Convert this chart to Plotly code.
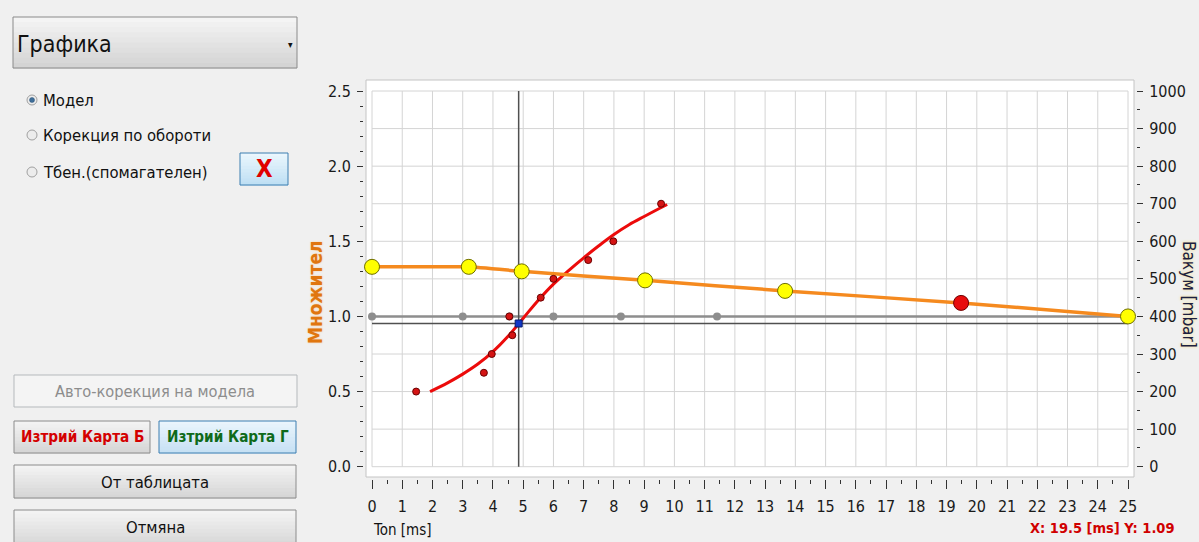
import plotly.graph_objects as go

# ---------------- data ----------------
# Injection-time multiplier model (orange curve, yellow nodes)
model_ton = [0.0, 3.2, 4.95, 9.03, 13.66, 19.48, 25.0]
model_mult = [1.33, 1.33, 1.30, 1.24, 1.17, 1.09, 1.00]
selected_node = 5  # currently selected node (drawn red)

# Reference level 1.0 with its nodes
base_ton = [0.0, 3.0, 4.55, 6.0, 8.23, 11.41]
base_mult = [1.0, 1.0, 1.0, 1.0, 1.0, 1.0]
base_line_ton = [0.0, 25.0]
base_line_mult = [1.0, 1.0]

# Measured samples
meas_ton = [1.46, 3.70, 3.96, 4.54, 4.64, 5.58, 6.00, 7.15, 7.98, 9.56]
meas_mult = [0.500, 0.625, 0.750, 1.000, 0.875, 1.125, 1.250, 1.375, 1.500, 1.750]

# Fitted curve through the samples
fit_ton = [1.92, 2.5, 3.0, 3.5, 4.0, 4.5, 5.0, 5.5, 6.0, 6.5, 7.0, 7.5, 8.0, 8.5, 9.0, 9.5, 9.76]
fit_mult = [0.500, 0.558, 0.616, 0.683, 0.766, 0.868, 0.988, 1.108, 1.215, 1.305, 1.390,
            1.470, 1.545, 1.610, 1.665, 1.718, 1.745]

# Cursor position
cursor_ton = 4.85
cursor_mult = 0.953

x_ticks = list(range(0, 26))
y_ticks = [0.0, 0.5, 1.0, 1.5, 2.0, 2.5]
y_grid = [0.0, 0.25, 0.5, 0.75, 1.0, 1.25, 1.5, 1.75, 2.0, 2.25, 2.5]
vac_ticks = list(range(0, 1001, 100))

readout = "X: 19.5 [ms] Y: 1.09"

# ---------------- geometry ----------------
W, H = 1199, 542
L, R, T, B = 364, 1136, 80, 479          # plot area in pixels
X0_PX, X_PER = 372.0, 30.24               # pixel of Ton=0, pixels per ms
Y0_PX, Y_PER = 466.7, 150.27              # pixel of mult=0, pixels per unit

x_range = [(L - X0_PX) / X_PER, (R - X0_PX) / X_PER]
y_range = [(Y0_PX - B) / Y_PER, (Y0_PX - T) / Y_PER]
vac_range = [v * 400 for v in y_range]


def fx(p):
    return (p - L) / (R - L)


def fy(p):
    return (B - p) / (B - T)


FONT = "Liberation Sans Narrow, DejaVu Sans Condensed, Arial Narrow, Arial, sans-serif"
BG = "#f0f0f0"
TICK_FONT = 16

shapes = []
annotations = []


def rect(x0, y0, x1, y1, fill=None, line=None, lw=1, layer="above"):
    shapes.append(dict(
        type="rect", xref="paper", yref="paper",
        x0=fx(x0), x1=fx(x1), y0=fy(y1), y1=fy(y0),
        fillcolor=fill if fill else "rgba(0,0,0,0)",
        line=dict(color=line if line else "rgba(0,0,0,0)", width=lw if line else 0),
        layer=layer))


def hexmix(c1, c2, t):
    a = [int(c1[i:i + 2], 16) for i in (1, 3, 5)]
    b = [int(c2[i:i + 2], 16) for i in (1, 3, 5)]
    return "#" + "".join(f"{round(a[k] + (b[k] - a[k]) * t):02x}" for k in range(3))


def button(x0, y0, x1, y1, top="#f3f3f3", bottom="#d6d6d6", border="#8c8c8c", n=10):
    h = (y1 - y0) / n
    for i in range(n):
        rect(x0, y0 + i * h, x1, y0 + (i + 1) * h + 0.5, fill=hexmix(top, bottom, i / (n - 1)))
    rect(x0, y0, x1, y1, line=border, lw=1)


def text(x, y, s, size=17, color="#111111", anchor="left", bold=False, angle=0, shadow=None):
    f = dict(family=FONT, size=size, color=color)
    if bold:
        f["weight"] = "bold"
    if shadow:
        f["shadow"] = shadow
    annotations.append(dict(
        xref="paper", yref="paper", x=fx(x), y=fy(y), text=s, showarrow=False,
        xanchor=anchor, yanchor="middle", font=f, textangle=angle))


# white chart panel
rect(366, 80, 1134, 477, fill="#ffffff", line="#c4c4c4", lw=1, layer="below")

# grid
for xv in x_ticks:
    shapes.append(dict(type="line", xref="x", yref="y", x0=xv, x1=xv, y0=y_grid[0], y1=y_grid[-1],
                       line=dict(color="#d4d4d4", width=1), layer="below"))
for yv in y_grid:
    shapes.append(dict(type="line", xref="x", yref="y", x0=x_ticks[0], x1=x_ticks[-1], y0=yv, y1=yv,
                       line=dict(color="#d4d4d4", width=1), layer="below"))

# ---------------- left control panel ----------------
button(13, 17, 297, 68, top="#f4f4f4", bottom="#d4d4d4", border="#8a8a8a")
text(15, 44, "Графика", size=23)
text(290, 44, "▾", size=10, anchor="center")

radio_rows = [(100, "Модел", True), (135, "Корекция по обороти", False), (172, "Тбен.(спомагателен)", False)]
for yy, label, on in radio_rows:
    shapes.append(dict(type="circle", xref="paper", yref="paper",
                       x0=fx(27), x1=fx(37), y0=fy(yy + 5), y1=fy(yy - 5),
                       fillcolor="#ececec", line=dict(color="#a0a0a0", width=1)))
    if on:
        shapes.append(dict(type="circle", xref="paper", yref="paper",
                           x0=fx(29.5), x1=fx(34.5), y0=fy(yy + 2.5), y1=fy(yy - 2.5),
                           fillcolor="#3f6f9a", line=dict(color="#2c5277", width=0.5)))
    text(41, yy, label, size=16.5)

button(240, 153, 288, 185, top="#eaf6fd", bottom="#bfe0f4", border="#3c7fb1")
text(264, 169, "X", size=24, color="#e00000", anchor="center", bold=True)

rect(14, 375, 297, 407, fill="#f4f4f4", line="#b5b9bc")
text(155, 391, "Авто-корекция на модела", size=16.3, color="#8d8d8d", anchor="center")

button(14, 421, 150, 453)
text(82, 437, "Изтрий Карта Б", size=15.2, color="#d40000", anchor="center", bold=True)
button(159, 421, 296, 453, top="#e9f4fc", bottom="#c7e1f4", border="#3c7fb1")
text(228, 437, "Изтрий Карта Г", size=15.2, color="#0f6a1a", anchor="center", bold=True)

button(14, 465, 296, 498)
text(155, 482, "От таблицата", size=16.5, anchor="center")
button(14, 510, 296, 548)
text(155, 527, "Отмяна", size=16.5, anchor="center")

# axis titles and readout
text(315, 292, "Множител", size=19, color="#e0760f", anchor="center", bold=True, angle=-90,
     shadow="0px 0px 2px #f7c98f")
text(1189, 294, "Вакум [mbar]", size=17, color="#1c2040", anchor="center", angle=90,
     shadow="0px 0px 3px #f3dc7a")
text(371, 530, "Ton [ms]", size=15, anchor="left")
text(1177, 528, readout, size=14.5, color="#d00000", anchor="right", bold=True)

# ---------------- traces ----------------
fig = go.Figure()

fig.add_trace(go.Scatter(x=base_line_ton, y=base_line_mult, mode="lines",
                         line=dict(color="#8e8e8e", width=2.5), hoverinfo="skip"))
fig.add_trace(go.Scatter(x=[x_ticks[0], x_ticks[-1]], y=[cursor_mult, cursor_mult], mode="lines",
                         line=dict(color="#505050", width=1.5), hoverinfo="skip"))
fig.add_trace(go.Scatter(x=[cursor_ton, cursor_ton], y=[y_grid[0], y_grid[-1]], mode="lines",
                         line=dict(color="#505050", width=1.5), hoverinfo="skip"))
fig.add_trace(go.Scatter(x=base_ton, y=base_mult, mode="markers",
                         marker=dict(color="#8e8e8e", size=8), cliponaxis=False))
fig.add_trace(go.Scatter(x=fit_ton, y=fit_mult, mode="lines",
                         line=dict(color="#ec0b0b", width=3, shape="spline", smoothing=1.0)))
fig.add_trace(go.Scatter(x=model_ton, y=model_mult, mode="lines",
                         line=dict(color="#f58a1f", width=3.5, shape="spline", smoothing=0.3)))
fig.add_trace(go.Scatter(x=meas_ton, y=meas_mult, mode="markers",
                         marker=dict(color="#d41414", size=7, line=dict(color="#6a0000", width=1))))

node_fill = ["#e80c0c" if i == selected_node else "#ffff00" for i in range(len(model_ton))]
node_edge = ["#700000" if i == selected_node else "#6e6e00" for i in range(len(model_ton))]
fig.add_trace(go.Scatter(x=model_ton, y=model_mult, mode="markers", cliponaxis=False,
                         marker=dict(color=node_fill, size=15, line=dict(color=node_edge, width=1))))
fig.add_trace(go.Scatter(x=[cursor_ton], y=[cursor_mult], mode="markers",
                         marker=dict(color="#1238c8", size=7, symbol="square",
                                     line=dict(color="#0a1e70", width=1))))
# vacuum axis carrier
fig.add_trace(go.Scatter(x=[None], y=[None], yaxis="y2", showlegend=False, hoverinfo="skip"))

fig.update_layout(
    width=W, height=H, autosize=False,
    margin=dict(l=L, r=W - R, t=T, b=H - B, pad=0),
    paper_bgcolor=BG, plot_bgcolor=BG,
    showlegend=False,
    font=dict(family=FONT, size=TICK_FONT, color="#1a1a1a"),
    shapes=shapes, annotations=annotations,
    xaxis=dict(range=x_range, tickmode="array", tickvals=x_ticks, ticks="outside", ticklen=9,
               tickcolor="#333333", tickwidth=1, showgrid=False, zeroline=False, showline=False,
               ticklabelstandoff=4, tickfont=dict(size=TICK_FONT),
               minor=dict(tickmode="array", tickvals=[v + 0.5 for v in x_ticks[:-1]],
                          ticks="outside", ticklen=4, tickcolor="#333333", showgrid=False)),
    yaxis=dict(range=y_range, tickmode="array", tickvals=y_ticks, tickformat=".1f", ticks="outside",
               ticklen=6, tickcolor="#333333", showgrid=False, zeroline=False, showline=False,
               ticklabelstandoff=3, tickfont=dict(size=TICK_FONT),
               minor=dict(tickmode="array",
                          tickvals=[round(i * 0.1, 1) for i in range(26) if i % 5],
                          ticks="outside", ticklen=3, tickcolor="#333333", showgrid=False)),
    yaxis2=dict(range=vac_range, overlaying="y", side="right", tickmode="array", tickvals=vac_ticks,
                ticks="outside", ticklen=6, tickcolor="#333333", showgrid=False, zeroline=False,
                showline=False, ticklabelstandoff=3, tickfont=dict(size=TICK_FONT),
                minor=dict(tickmode="array", tickvals=[v + 50 for v in vac_ticks[:-1]],
                           ticks="outside", ticklen=3, tickcolor="#333333", showgrid=False)),
)

fig.write_html("out.html")
